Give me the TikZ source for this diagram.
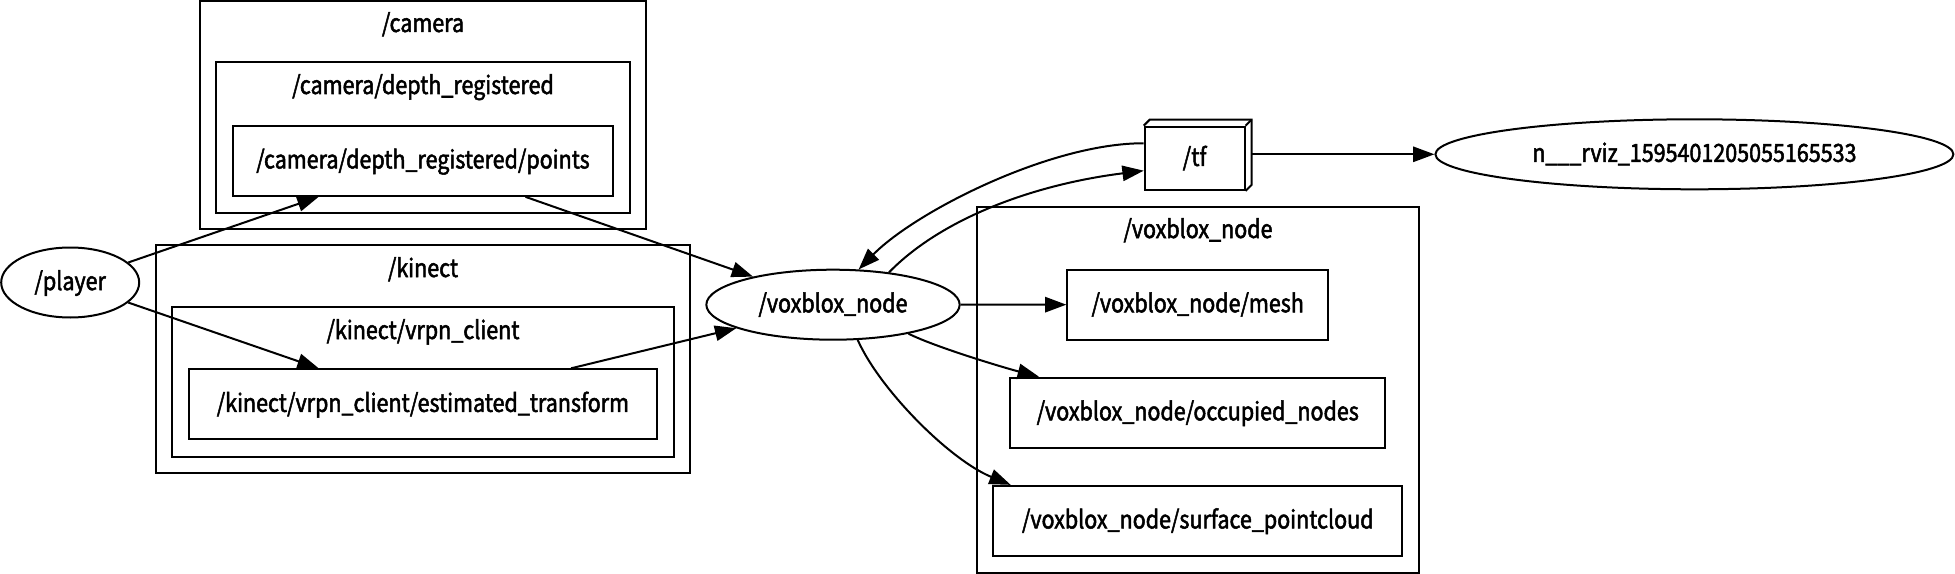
\documentclass[tikz,border=0pt]{standalone}
\usepackage{fontspec}
\setmainfont{Noto Sans CJK SC}[FakeStretch=0.86, FakeBold=2]
\usetikzlibrary{arrows.meta,shapes.geometric,calc}
\begin{document}
\begin{tikzpicture}[x=0.75pt,y=-0.75pt,
  every node/.style={font=\fontsize{18.75}{22}\selectfont, inner sep=0pt, text height=15pt, text depth=3.6pt},
  lw/.style={line width=1.5pt},
  topic/.style={draw, lw, rectangle, minimum height=52.5pt},
  gnode/.style={draw, lw, ellipse, minimum height=52.5pt},
  cluster/.style={draw, lw},
  clabel/.style={anchor=base},
  arr/.style={lw, -{Triangle[length=16pt,width=11.5pt]}},
]
\useasboundingbox (0,0) rectangle (1955,574);
% clusters
\draw[cluster] (200.4,1.5) rectangle (646,229);
\node[clabel] (lcam) at (423,32) {/camera};
\draw[cluster] (216,62) rectangle (630,213);
\node[clabel] (ldep) at (423,94) {/camera/depth\_registered};
\draw[cluster] (155.8,244.7) rectangle (690,472.7);
\node[clabel] (lkin) at (423,277) {/kinect};
\draw[cluster] (171.9,306.7) rectangle (674,456.7);
\node[clabel] (lvrpn) at (423,339) {/kinect/vrpn\_client};
\draw[cluster] (977,206.7) rectangle (1419,572.5);
\node[clabel] (lvox) at (1198,238) {/voxblox\_node};
% topics
\node[topic, minimum width=285.6pt] (pts) at (423,160.85) {/camera/depth\_registered/points};
\node[topic, minimum width=351.2pt] (est) at (422.9,404.3) {/kinect/vrpn\_client/estimated\_transform};
\node[topic, minimum width=195.5pt] (mesh) at (1197.7,304.65) {/voxblox\_node/mesh};
\node[topic, minimum width=280.9pt] (occ) at (1197.75,412.7) {/voxblox\_node/occupied\_nodes};
\node[topic, minimum width=306.7pt] (surf) at (1197.75,520.85) {/voxblox\_node/surface\_pointcloud};
\node[topic, minimum width=74.85pt, minimum height=47.5pt] (tf) at (1194.6,158.35) {/tf};
\draw[lw] (tf.north west) -- ++(6,-6) -- ($(tf.north east)+(6,-6)$) -- ($(tf.south east)+(6,-6)$) -- (tf.south east);
\draw[lw] (tf.north east) -- ++(6,-6);
% graph nodes
\node[gnode, minimum width=103.5pt] (player) at (70.2,282.5) {/player};
\node[gnode, minimum width=190pt] (vox) at (833,304.7) {/voxblox\_node};
\node[gnode, minimum width=388.5pt] (rviz) at (1694.4,154.3) {n\_\_\_rviz\_1595401205055165533};
% edges
\draw[arr] (player) -- (pts);
\draw[arr] (player) -- (est);
\draw[arr] (pts) -- (vox);
\draw[arr] (est) -- (vox);
\draw[arr] (vox) -- (mesh);
\draw[arr] (vox.-21) .. controls (935,347) and (1005,368) .. ($(occ.north west)+(29.5,0)$);
\draw[arr] (vox.-55) .. controls (880,390) and (950,460) .. ($(surf.north west)+(18.4,0)$);
\draw[arr] ($(tf.north west)+(0,17.6)$) .. controls (1050,143) and (915,212) .. (vox.54);
\draw[arr] (vox.30) .. controls (940,220) and (1030,185) .. ($(tf.north west)+(0,45)$);
\draw[arr] ($(rviz.west -| tf.east)+(6,0)$) -- (rviz.west);
\end{tikzpicture}
\end{document}
